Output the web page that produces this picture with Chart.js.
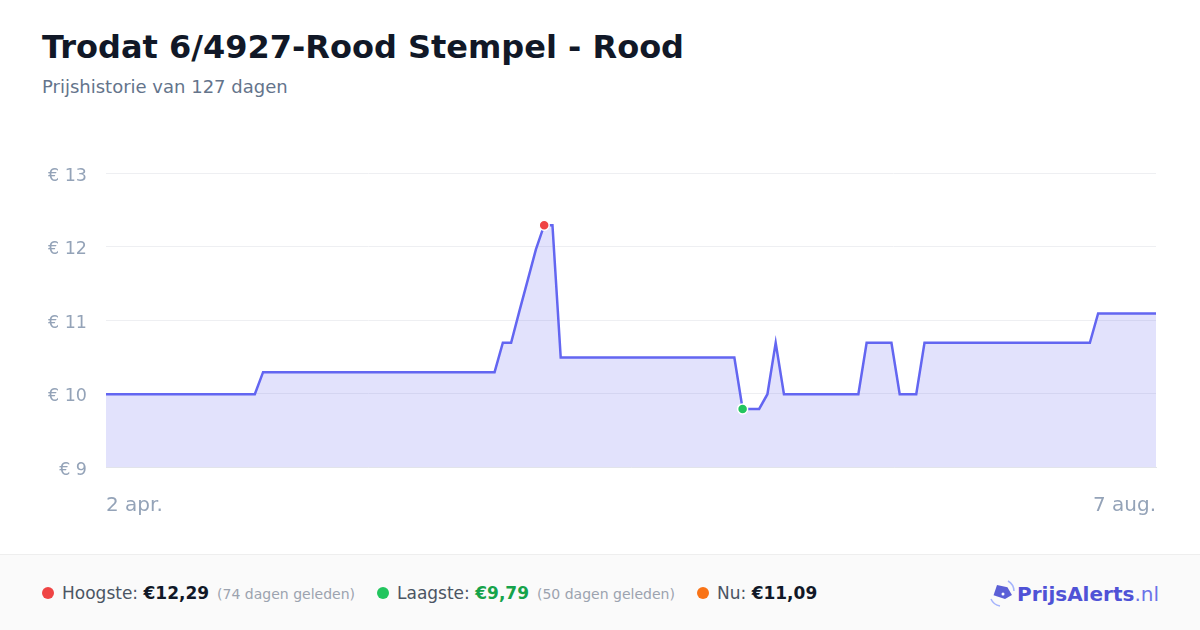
<!DOCTYPE html>
<html>
<head>
<meta charset="utf-8">
<script src="https://cdn.jsdelivr.net/npm/chart.js@4"></script>
<style>
  html, body { margin:0; padding:0; background:#ffffff; }
  body { width:1200px; height:630px; position:relative; overflow:hidden; font-family:"DejaVu Sans", sans-serif; }
  #title { position:absolute; left:42px; top:28px; font-size:32px; font-weight:bold; color:#111827; white-space:nowrap; }
  #subtitle { position:absolute; left:42px; top:76px; font-size:18px; color:#64748b; white-space:nowrap; }
  #chartBox { position:absolute; left:0; top:0; width:1200px; height:550px; }
  #footer { position:absolute; left:0; top:554px; width:1200px; height:76px; background:#fafafa; border-top:1px solid #eeeeee; }
  .stat { position:absolute; top:28px; font-size:17px; color:#4b5563; white-space:nowrap; line-height:20px; }
  .dot { display:inline-block; width:12px; height:12px; border-radius:50%; margin-right:8px; vertical-align:0px; }
  .val { font-weight:bold; color:#111827; }
  .ago { font-size:14px; color:#9ca3af; margin-left:8px; }
  #logo { position:absolute; left:988px; top:24px; white-space:nowrap; font-size:20px; }
  #logo .brand { font-weight:bold; color:#4f52d6; margin-left:1px; }
  #logo .tld { color:#6b72e8; }
</style>
</head>
<body>
<div id="title">Trodat 6/4927-Rood Stempel - Rood</div>
<div id="subtitle">Prijshistorie van 127 dagen</div>
<div id="chartBox"><canvas id="c"></canvas></div>
<div id="footer">
  <div class="stat" style="left:42px"><span class="dot" style="background:#ef4444"></span>Hoogste: <span class="val">€12,29</span><span class="ago">(74 dagen geleden)</span></div>
  <div class="stat" style="left:377px"><span class="dot" style="background:#22c55e"></span>Laagste: <span class="val" style="color:#16a34a">€9,79</span><span class="ago">(50 dagen geleden)</span></div>
  <div class="stat" style="left:697px"><span class="dot" style="background:#f97316"></span>Nu: <span class="val">€11,09</span></div>
  <div id="logo">
    <svg width="28" height="28" viewBox="0 0 28 28" style="vertical-align:-6px">
      <path d="M3 20 A12 12 0 0 0 12 27" stroke="#a5b4fc" stroke-width="1.5" fill="none"/>
      <path d="M20 2 A12 12 0 0 1 26 12" stroke="#a5b4fc" stroke-width="1.5" fill="none"/>
      <path d="M5 12 L13 5 L21 12 L21 21 L13 21 Z" fill="#5b5fd6" transform="rotate(-30 13 13)"/>
      <circle cx="15" cy="15" r="1.5" fill="#ffffff"/>
    </svg><span class="brand">PrijsAlerts</span><span class="tld">.nl</span>
  </div>
</div>
<script>
// Dates: 2 apr. .. 7 aug. (128 daily points, days 0..127)
const startLabel = "2 apr.";
const endLabel = "7 aug.";
const dayCount = 128;
const yTicks = [9, 10, 11, 12, 13];

// Price segments: [number of days, price]
const segments = [
  [19, 9.99], [29, 10.29], [2, 10.69],
  [1, 11.12], [1, 11.54], [1, 11.96],
  [2, 12.29], [22, 10.49], [3, 9.79],
  [1, 9.99], [1, 10.69], [10, 9.99],
  [4, 10.69], [3, 9.99], [21, 10.69], [8, 11.09]
];
const prices = [];
segments.forEach(([n, v]) => { for (let i = 0; i < n; i++) prices.push(v); });

const labels = [];
for (let i = 0; i < dayCount; i++) labels.push(i === 0 ? startLabel : (i === dayCount - 1 ? endLabel : ""));

const maxIdx = 53;
const minIdx = 77;

new Chart(document.getElementById('c'), {
  type: 'line',
  data: {
    labels: labels,
    datasets: [{
      data: prices,
      borderColor: '#6366f1',
      borderWidth: 2.5,
      backgroundColor: 'rgba(99,102,241,0.19)',
      fill: 'start',
      tension: 0,
      pointRadius: prices.map((v, i) => (i === maxIdx || i === minIdx) ? 5 : 0),
      pointBackgroundColor: prices.map((v, i) => i === maxIdx ? '#ef4444' : '#22c55e'),
      pointBorderColor: '#ffffff',
      pointBorderWidth: 1.5,
      pointHoverRadius: 0
    }]
  },
  options: {
    responsive: true,
    maintainAspectRatio: false,
    animation: false,
    events: [],
    layout: { padding: { left: 0, right: 44, top: 173, bottom: 33 } },
    plugins: { legend: { display: false }, tooltip: { enabled: false } },
    scales: {
      x: {
        grid: { display: false, drawTicks: false },
        border: { display: true, color: '#e2e4ea', width: 1 },
        afterFit: (s) => { s.height = 50; },
        ticks: {
          autoSkip: false, maxRotation: 0, minRotation: 0, align: 'inner',
          padding: 27, color: '#94a3b8',
          font: { family: 'DejaVu Sans', size: 20 },
          callback: function(v, i) { return labels[i] || null; }
        }
      },
      y: {
        min: 9, max: 13,
        afterFit: (s) => { s.width = 106; },
        afterBuildTicks: (s) => { s.ticks = yTicks.map(v => ({ value: v })); },
        grid: { color: '#eeeff2', drawTicks: false, lineWidth: 1 },
        border: { display: false },
        ticks: {
          padding: 19, color: '#94a3b8', labelOffset: 3,
          font: { family: 'DejaVu Sans', size: 17.5 },
          callback: (v) => '€ ' + v
        }
      }
    }
  }
});
</script>
</body>
</html>
